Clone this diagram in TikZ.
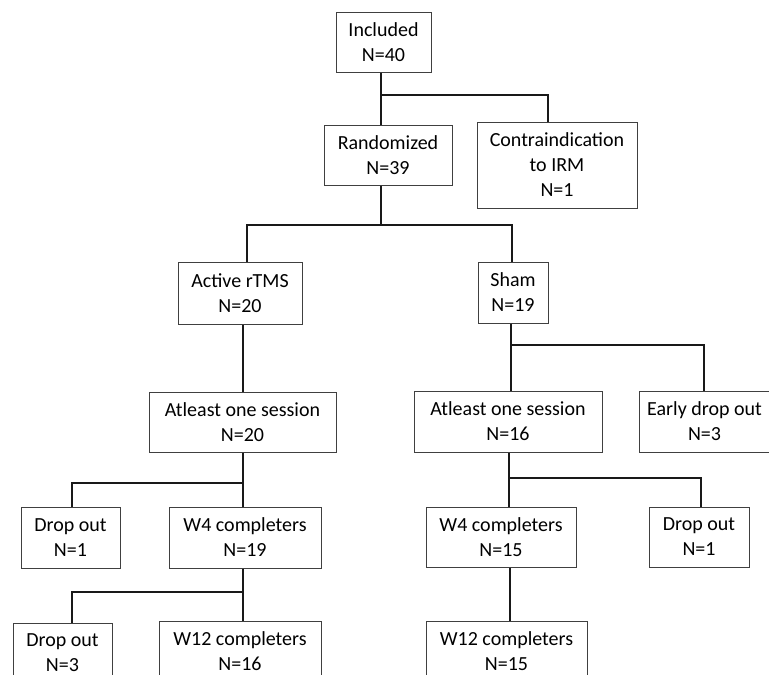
\documentclass[tikz,border=0pt]{standalone}
\usepackage{fontspec}
\setmainfont{Carlito}
\usetikzlibrary{positioning,calc}

\begin{document}
\begin{tikzpicture}[
    x=1pt, y=-1pt,
    box/.style={draw=black!75, line width=1pt, minimum width=#1, minimum height=60pt,
                inner sep=0pt, align=center, font=\fontsize{20}{25}\selectfont},
    link/.style={draw=black!90, line width=2.2pt}
]
\clip (0,0) rectangle (769,675);

% top
\node[box=95pt] (incl) at (383.5,42) {Included\\N=40};
\node[box=128pt] (rand) at (388,155) {Randomized\\N=39};
\node[box=160pt, minimum height=86pt] (contra) at (557,165) {Contraindication\\to IRM\\N=1};

% arms
\node[box=124pt, minimum height=62pt] (active) at (240,293) {Active rTMS\\N=20};
\node[box=70pt, minimum height=61pt] (sham) at (513,292.5) {Sham\\N=19};

\node[box=187pt] (sessA) at (242.5,422) {Atleast one session\\N=20};
\node[box=188pt, minimum height=61pt] (sessS) at (508,421.5) {Atleast one session\\N=16};
\node[box=131pt, minimum height=61pt] (early) at (704.5,421.5) {Early drop out\\N=3};

\node[box=99pt, minimum height=61pt] (dropA1) at (70.5,537.5) {Drop out\\N=1};
\node[box=152pt, minimum height=61pt] (w4A) at (245,537.5) {W4 completers\\N=19};
\node[box=150pt] (w4S) at (501,537) {W4 completers\\N=15};
\node[box=100pt] (dropS) at (699,537) {Drop out\\N=1};

\node[box=99pt] (dropA2) at (62.5,653) {Drop out\\N=3};
\node[box=162pt] (w12A) at (240,651) {W12 completers\\N=16};
\node[box=161pt] (w12S) at (506.5,651) {W12 completers\\N=15};

% junctions
\coordinate (j1) at (381,95);
\coordinate (j1r) at (548,95);
\coordinate (j2) at (381,225);
\coordinate (j2l) at (247,225);
\coordinate (j2r) at (512,225);
\coordinate (jA) at (243,0);
\coordinate (j3) at (511,345);
\coordinate (j3r) at (704,345);
\coordinate (j4) at (243,483);
\coordinate (j4l) at (72,483);
\coordinate (j5) at (509,478);
\coordinate (j5r) at (701,478);
\coordinate (j6) at (243,592);
\coordinate (j6l) at (72,592);
\coordinate (jS) at (510,0);

\draw[link] (j1 |- incl.south) -- (j1 |- rand.north);
\draw[link] (j1) -- (j1r) -- (j1r |- contra.north);
\draw[link] (j2 |- rand.south) -- (j2);
\draw[link] (j2l |- active.north) -- (j2l) -- (j2r) -- (j2r |- sham.north);
\draw[link] (jA |- active.south) -- (jA |- sessA.north);
\draw[link] (j3 |- sham.south) -- (j3 |- sessS.north);
\draw[link] (j3) -- (j3r) -- (j3r |- early.north);
\draw[link] (j4 |- sessA.south) -- (j4 |- w4A.north);
\draw[link] (j4) -- (j4l) -- (j4l |- dropA1.north);
\draw[link] (j5 |- sessS.south) -- (j5 |- w4S.north);
\draw[link] (j5) -- (j5r) -- (j5r |- dropS.north);
\draw[link] (j6 |- w4A.south) -- (j6 |- w12A.north);
\draw[link] (j6) -- (j6l) -- (j6l |- dropA2.north);
\draw[link] (jS |- w4S.south) -- (jS |- w12S.north);
\end{tikzpicture}
\end{document}
